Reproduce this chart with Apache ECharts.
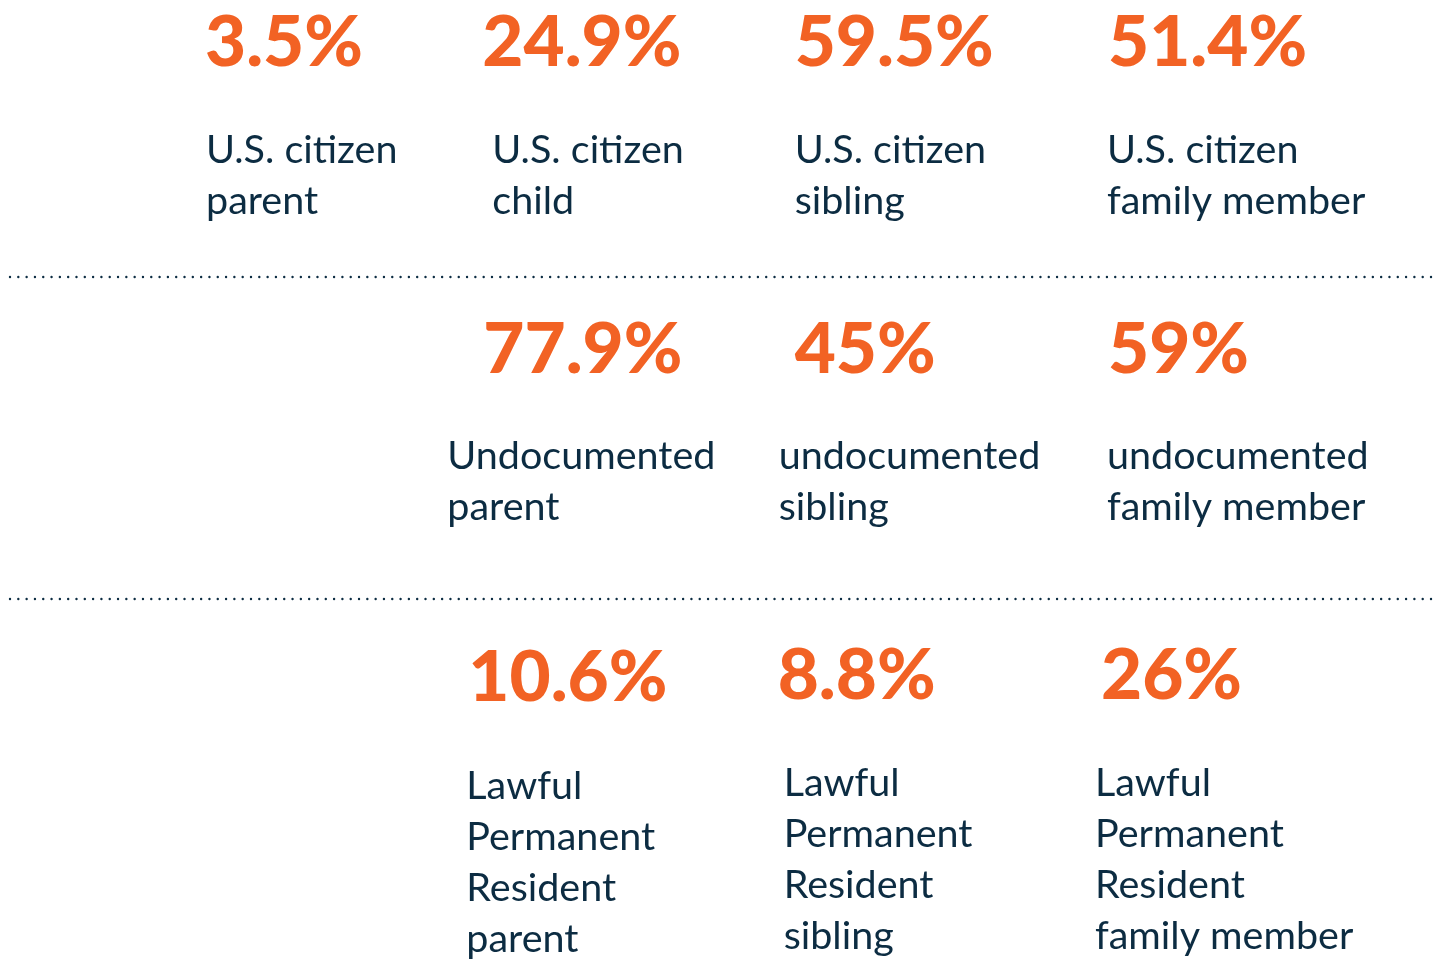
<!DOCTYPE html>
<html>
<head>
<meta charset="utf-8">
<script src="https://cdn.jsdelivr.net/npm/echarts@6/dist/echarts.min.js"></script>
<style>
    html,body{margin:0;padding:0;background:#fff;}
    #chart{width:1434px;height:959px;}
</style>
</head>
<body>
<div id="chart"></div>
<script>
// 每行：身份类别
var rows=['U.S. citizen','Undocumented','Lawful Permanent Resident'];
var columns=['parent','child','sibling','family member'];

var citizenValues=[3.5,24.9,59.5,51.4];
var undocumentedValues=[null,77.9,45,59];
var lprValues=[null,10.6,8.8,26];

var citizenLabels=['U.S. citizen\nparent','U.S. citizen\nchild','U.S. citizen\nsibling','U.S. citizen\nfamily member'];
var undocumentedLabels=[null,'Undocumented\nparent','undocumented\nsibling','undocumented\nfamily member'];
var lprLabels=[null,'Lawful\nPermanent\nResident\nparent','Lawful\nPermanent\nResident\nsibling','Lawful\nPermanent\nResident\nfamily member'];

var ORANGE='#f26224';
var NAVY='#0c2c42';
var FONT='Lato';

// 微调偏移（像素）
var pctOffset=[
    [[-2,2],[-25,2],[-13,2],[0,2]],
    [null,[-24,-8],[-13,-8],[0,-8]],
    [null,[-39,2],[-30,0],[-7,0]]
];
var textOffset=[
    [[-1,121],[-15,121],[-13,121],[-1,121]],
    [null,[-60,109],[-29,109],[-1,109]],
    [null,[-41,122],[-24,119],[-13,119]]
];

var valueSets=[citizenValues,undocumentedValues,lprValues];
var labelSets=[citizenLabels,undocumentedLabels,lprLabels];

function buildPct(){
    var out=[];
    valueSets.forEach(function(vals,r){
        vals.forEach(function(v,c){
            if(v==null){return;}
            var o=pctOffset[r][c];
            out.push({
                value:[c,r],
                name:v+'%',
                label:{offset:[o[0],o[1]-14]}
            });
        });
    });
    return out;
}
function buildText(){
    var out=[];
    labelSets.forEach(function(labels,r){
        labels.forEach(function(t,c){
            if(t==null){return;}
            var o=textOffset[r][c];
            out.push({
                value:[c,r],
                name:t,
                label:{offset:[o[0],o[1]-11]}
            });
        });
    });
    return out;
}

var myChart=echarts.init(document.getElementById('chart'));
myChart.setOption({
    animation:false,
    grid:{left:207,top:15,width:901,height:635},
    xAxis:{type:'value',min:0,max:3,show:false},
    yAxis:{type:'value',min:0,max:2,inverse:true,show:false},
    graphic:[
        {type:'line',shape:{x1:10,y1:277,x2:1434,y2:277},
         style:{stroke:NAVY,lineWidth:2.4,lineDash:[0.01,8.3],lineCap:'round'}},
        {type:'line',shape:{x1:10,y1:599,x2:1434,y2:599},
         style:{stroke:NAVY,lineWidth:2.4,lineDash:[0.01,8.3],lineCap:'round'}}
    ],
    series:[
        {
            type:'scatter',
            symbolSize:0,
            silent:true,
            itemStyle:{opacity:1},
            data:buildPct(),
            label:{
                show:true,
                opacity:1,
                position:[0,0],
                align:'left',
                verticalAlign:'top',
                formatter:'{b}',
                color:ORANGE,
                fontFamily:FONT,
                fontWeight:900,
                fontSize:71,
                lineHeight:80
            }
        },
        {
            type:'scatter',
            symbolSize:0,
            silent:true,
            itemStyle:{opacity:1},
            data:buildText(),
            label:{
                show:true,
                opacity:1,
                position:[0,0],
                align:'left',
                verticalAlign:'top',
                formatter:'{b}',
                color:NAVY,
                fontFamily:FONT,
                fontSize:39.5,
                lineHeight:51
            }
        }
    ]
});
</script>
</body>
</html>
